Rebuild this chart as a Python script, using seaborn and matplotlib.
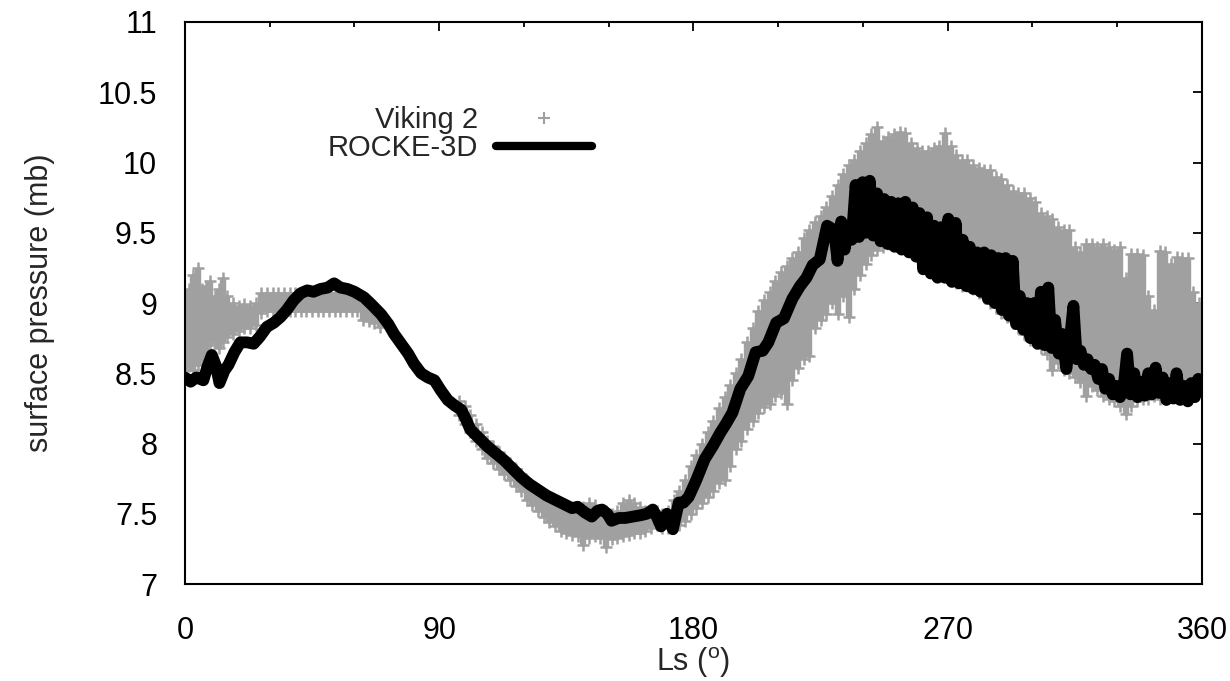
import numpy as np
import pandas as pd
import matplotlib
matplotlib.use('Agg')
import matplotlib.pyplot as plt
import seaborn as sns
from matplotlib.lines import Line2D
from matplotlib.ticker import MultipleLocator

# ROCKE-3D model, surface pressure (mb) vs Ls (deg)
rocke_ls = [0, 2, 4, 6.5, 8, 9.5, 11, 12.2, 14, 15.4, 17.5, 19.6, 22, 24.3, 26.5, 29, 31.5,
            33.8, 36, 38.5, 41, 43.3, 45.5, 48, 50.5, 52.8, 55, 57.5, 60, 63.4, 66, 69.4,
            72, 74, 76.5, 79, 81, 83.6, 86, 88.3, 90.5, 93, 95.5, 97.8, 99.5, 101, 104,
            107, 110, 113, 116, 119, 122, 125, 128, 131, 134, 137, 139, 141.5, 144, 146,
            147.6, 149.5, 151, 153.5, 155.8, 158.5, 161.4, 163.5, 165.6, 167, 168.5, 170.6,
            172.7, 174.8, 176.5, 178.3, 181, 184, 186.8, 189.6, 191.5, 193.8, 196.6, 199.4,
            202, 204.5, 206.5, 209.3, 212, 215, 217.7, 220, 222.2, 224.7, 227.3, 229.8,
            231.0, 232.3, 233.5, 234.8, 236.0, 237.4, 238.6, 239.9, 241.0, 242.4, 243.6,
            245.0, 246.2, 247.5, 248.7, 250.0, 251.2, 252.5, 253.7, 255.0, 256.3, 257.6,
            258.8, 260.0, 261.3, 262.7, 264.0, 265.2, 266.4, 267.7, 269.0, 270.2, 271.5,
            272.8, 274.0, 275.3, 276.6, 277.8, 279.0, 280.4, 281.6, 282.9, 284.2, 285.4,
            286.7, 288.0, 289.2, 290.5, 291.7, 293.0, 294.2, 295.5, 296.8, 298.0, 299.3,
            300.6, 301.8, 303.0, 304.3, 305.6, 306.8, 308.0, 309.3, 310.5, 312.0, 313.2,
            314.5, 315.7, 317.0, 318.2, 319.5, 320.8, 322.0, 323.3, 324.6, 325.8, 327.1,
            328.4, 329.7, 331.0, 332.2, 333.5, 334.7, 336.0, 337.2, 338.5, 339.8, 341.0,
            342.3, 343.6, 344.8, 346.1, 347.4, 348.6, 349.9, 351.0, 352.3, 353.6, 355.0,
            356.2, 357.5, 358.7, 360.0]
rocke_p = [8.47, 8.44, 8.47, 8.45, 8.55, 8.63, 8.55, 8.43, 8.52, 8.56, 8.65, 8.72, 8.72, 8.71,
           8.76, 8.83, 8.86, 8.90, 8.95, 9.02, 9.07, 9.09, 9.08, 9.10, 9.11, 9.14, 9.11, 9.10,
           9.08, 9.04, 8.99, 8.92, 8.85, 8.78, 8.71, 8.64, 8.57, 8.50, 8.47, 8.45, 8.38, 8.31,
           8.27, 8.24, 8.17, 8.10, 8.04, 7.98, 7.93, 7.88, 7.82, 7.76, 7.71, 7.67, 7.63, 7.60,
           7.57, 7.54, 7.55, 7.51, 7.48, 7.52, 7.53, 7.50, 7.45, 7.47, 7.47, 7.48, 7.49, 7.50,
           7.53, 7.48, 7.41, 7.50, 7.39, 7.58, 7.58, 7.62, 7.74, 7.89, 7.98, 8.08, 8.14, 8.22,
           8.39, 8.48, 8.65, 8.66, 8.72, 8.86, 8.89, 9.03, 9.12, 9.18, 9.27, 9.31, 9.55, 9.52,
           9.30, 9.58, 9.38, 9.55, 9.45, 9.84, 9.47, 9.86, 9.50, 9.87, 9.48,
           9.78, 9.44, 9.74, 9.42, 9.72, 9.40, 9.71, 9.38, 9.72, 9.36, 9.68,
           9.33, 9.64, 9.24, 9.61, 9.21, 9.55, 9.18, 9.54, 9.18, 9.60, 9.15,
           9.57, 9.14, 9.45, 9.12, 9.40, 9.10, 9.36, 9.08, 9.36, 9.03, 9.34,
           9.00, 9.32, 8.95, 9.32, 8.91, 9.30, 8.85, 9.05, 8.81, 9.00, 8.75,
           9.00, 8.71, 9.08, 8.70, 9.11, 8.68, 8.88, 8.64, 8.78, 8.53, 8.73,
           8.98, 8.60, 8.66, 8.56, 8.60, 8.53, 8.56, 8.46, 8.53, 8.39, 8.46,
           8.35, 8.41, 8.33, 8.39, 8.64, 8.35, 8.50, 8.33, 8.44, 8.34, 8.50,
           8.35, 8.54, 8.36, 8.47, 8.31, 8.43, 8.32, 8.50, 8.31, 8.41, 8.30,
           8.43, 8.33, 8.46, 8.40]

# Viking 2 lander, spread of observed pressure (mb) at each Ls
viking_ls = [0, 1.5, 3, 4.5, 6, 7.5, 9, 10.5, 12, 13.5, 15, 17, 19, 21, 23, 25,
             27, 29, 31, 33, 35, 37, 39, 41, 43, 45, 47, 49, 51, 53, 55, 57, 59, 61,
             63, 65, 67, 69,
             97, 99, 101, 103, 105, 107, 109, 111, 113, 115, 117, 119, 121, 123, 125,
             127, 129, 131, 133, 135, 137, 139, 141, 143, 145, 147, 149, 151, 153, 155,
             157, 159, 161, 163, 165, 167, 169, 171,
             173, 175, 177, 179, 181, 183, 185, 187, 189, 191, 193, 195, 197, 199, 201,
             203, 205, 207, 209, 211, 213, 215, 217, 219, 221, 223, 225, 227, 229, 231,
             233, 235, 237, 239, 241, 243, 245, 247, 249, 251, 253, 255, 257, 259, 261,
             263, 265, 267, 269, 271, 273, 275, 277, 279, 281, 283, 285, 287, 289, 291,
             293, 295, 297, 299, 301, 303, 305, 307, 309, 311, 313, 315, 317, 319, 321,
             323, 325, 327, 329, 331, 333, 335, 337, 339, 341, 343, 345, 347, 349, 351,
             353, 355, 357, 359]
viking_lo = [8.52, 8.55, 8.52, 8.56, 8.60, 8.64, 8.70, 8.72, 8.68, 8.72, 8.76, 8.78, 8.80,
             8.82, 8.82, 8.84,
             8.93, 8.94, 8.94, 8.94, 8.94, 8.94, 8.94, 8.94, 8.94, 8.94, 8.94, 8.94, 8.94,
             8.94, 8.94, 8.94, 8.94, 8.94,
             8.88, 8.87, 8.86, 8.83,
             8.20, 8.14, 8.08, 8.02, 7.96, 7.90, 7.86, 7.82, 7.78, 7.74, 7.70, 7.66, 7.60,
             7.56, 7.52, 7.48, 7.44, 7.41, 7.38, 7.36, 7.35, 7.34, 7.28, 7.33, 7.34, 7.33,
             7.26, 7.32, 7.33, 7.34, 7.35, 7.36, 7.36, 7.38, 7.40, 7.42, 7.40, 7.40,
             7.40, 7.42, 7.45, 7.50, 7.54, 7.58, 7.62, 7.66, 7.72, 7.74, 7.84, 7.96, 8.02,
             8.10, 8.16, 8.22, 8.26, 8.28, 8.34, 8.36, 8.28, 8.45, 8.54, 8.60, 8.62, 8.82,
             8.88, 8.92, 9.00, 8.92, 9.05, 8.90, 9.10, 9.20, 9.28, 9.34, 9.38, 9.40, 9.42,
             9.42, 9.42, 9.42, 9.40, 9.37, 9.32, 9.27, 9.22, 9.20, 9.20, 9.17, 9.14, 9.12,
             9.12, 9.10, 9.07, 9.04, 9.00, 8.97, 8.93, 8.90, 8.87, 8.82, 8.78, 8.74, 8.72,
             8.68, 8.64, 8.52, 8.57, 8.52, 8.50, 8.47, 8.44, 8.34, 8.41, 8.38, 8.34, 8.32,
             8.30, 8.27, 8.21, 8.27, 8.30, 8.32, 8.32, 8.34, 8.32, 8.32, 8.34, 8.35, 8.34,
             8.32, 8.35, 8.42]
viking_hi = [9.05, 9.10, 9.20, 9.25, 9.10, 9.12, 9.16, 9.05, 9.10, 9.18, 9.05, 9.00, 8.98,
             8.99, 8.98, 9.00,
             9.07, 9.07, 9.07, 9.07, 9.07, 9.07, 9.07, 9.07, 9.07, 9.07, 9.07, 9.07, 9.07,
             9.07, 9.07, 9.07, 9.07, 9.07,
             9.00, 8.98, 8.95, 8.90,
             8.30, 8.27, 8.20, 8.14, 8.08, 8.02, 7.98, 7.94, 7.90, 7.86, 7.82, 7.78, 7.73,
             7.70, 7.66, 7.63, 7.60, 7.58, 7.56, 7.54, 7.52, 7.53, 7.55, 7.58, 7.56, 7.52,
             7.52, 7.50, 7.52, 7.58, 7.60, 7.58, 7.55, 7.52, 7.50, 7.52, 7.50, 7.52,
             7.60, 7.66, 7.74, 7.84, 7.92, 8.00, 8.08, 8.16, 8.25, 8.33, 8.42, 8.50, 8.60,
             8.72, 8.82, 8.94, 9.02, 9.08, 9.16, 9.22, 9.26, 9.32, 9.36, 9.46, 9.52, 9.58,
             9.62, 9.68, 9.76, 9.84, 9.92, 9.98, 10.02, 10.08, 10.14, 10.20, 10.25, 10.15,
             10.18, 10.20, 10.22, 10.21, 10.14, 10.10, 10.08, 10.08, 10.10, 10.12, 10.21,
             10.12, 10.05, 10.02, 10.02, 9.98, 9.96, 9.95, 9.95, 9.90, 9.88, 9.84, 9.80,
             9.78, 9.78, 9.75, 9.72, 9.64, 9.62, 9.60, 9.54, 9.52, 9.52, 9.40, 9.36, 9.42,
             9.42, 9.40, 9.42, 9.40, 9.38, 9.40, 9.18, 9.35, 9.35, 9.34, 9.05, 8.95, 9.37,
             9.36, 9.28, 9.33, 9.32, 9.32, 9.08, 9.00]

x_ticks = [0, 90, 180, 270, 360]
y_ticks = [7, 7.5, 8, 8.5, 9, 9.5, 10, 10.5, 11]
y_tick_labels = ['7', '7.5', '8', '8.5', '9', '9.5', '10', '10.5', '11']

sns.set_theme(style='white')
plt.rcParams['font.family'] = ['Liberation Sans', 'DejaVu Sans']
plt.rcParams['mathtext.fontset'] = 'custom'
plt.rcParams['mathtext.rm'] = 'Liberation Sans'

gray = '#a0a0a0'

fig = plt.figure(figsize=(12.3, 6.81), dpi=100)
ax = fig.add_axes([0.1504, 0.1424, 0.8268, 0.8253])

# Viking 2 observations: '+' marks at the edge of each Ls column, spread filled between
ax.vlines(viking_ls, viking_lo, viking_hi, color=gray, lw=4.6, zorder=1)
viking = pd.DataFrame({'Ls': viking_ls + viking_ls, 'p': viking_lo + viking_hi})
sns.scatterplot(data=viking, x='Ls', y='p', marker='+', s=70, color=gray,
                linewidth=1.8, ax=ax, zorder=2, legend=False)

# ROCKE-3D model
rocke = pd.DataFrame({'Ls': rocke_ls, 'p': rocke_p})
sns.lineplot(data=rocke, x='Ls', y='p', sort=False, estimator=None,
             color='black', lw=8.5, ax=ax, zorder=3)

ax.set_xlim(0, 360)
ax.set_ylim(7, 11)
ax.set_xticks(x_ticks)
ax.set_xticklabels([str(t) for t in x_ticks])
ax.xaxis.set_minor_locator(MultipleLocator(30))
ax.set_yticks(y_ticks)
ax.set_yticklabels(y_tick_labels)

ax.tick_params(which='both', direction='in', top=True, right=True, colors='black')
ax.tick_params(which='major', length=6.5, width=1.3, labelsize=22)
ax.tick_params(which='minor', length=3.5, width=1.3)
ax.tick_params(axis='x', pad=23)
ax.tick_params(axis='y', pad=20)
for s in ax.spines.values():
    s.set_linewidth(1.5)
    s.set_color('black')

ax.set_xlabel(r'Ls ($^{\mathregular{o}}$)', fontsize=22)
ax.set_ylabel('surface pressure (mb)', fontsize=22)
ax.xaxis.set_label_coords(0.5, -0.108)
ax.yaxis.set_label_coords(-0.128, 0.5)

handles = [Line2D([], [], marker='+', ls='none', color=gray, ms=8, mew=1.5),
           Line2D([], [], color='black', lw=6)]
ax.legend(handles, ['Viking 2', 'ROCKE-3D'], loc='upper right', bbox_to_anchor=(0.40, 0.85),
          markerfirst=False, frameon=False, fontsize=21, handlelength=3.3,
          handletextpad=0.6, labelspacing=0.0, borderaxespad=0, borderpad=0)

fig.savefig('out.png', dpi=100)
